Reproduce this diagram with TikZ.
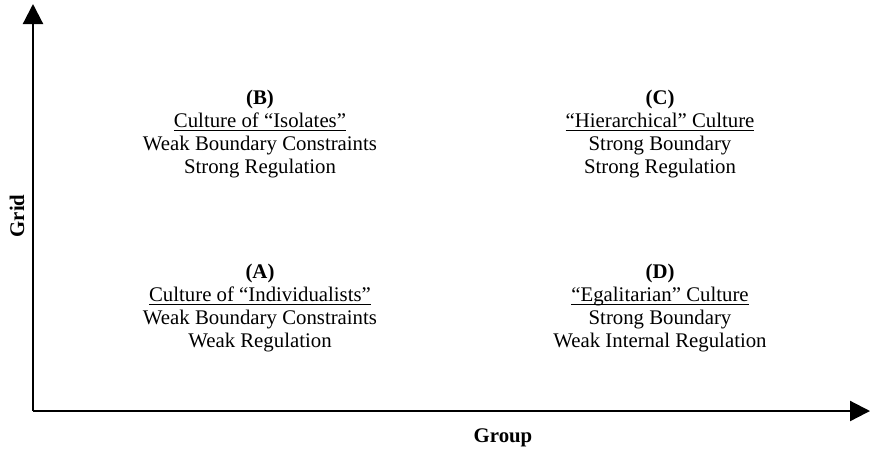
\documentclass[tikz,border=0pt]{standalone}
\usepackage{fontspec}
\setmainfont{Liberation Serif}
\usepackage{tikz}
\usetikzlibrary{arrows.meta,positioning}
\newcommand{\cultname}[1]{\smash{\underline{\smash{#1}\vphantom{a}}}}

\begin{document}
\begin{tikzpicture}[x=0.5pt,y=-0.5pt,
    quad/.style={align=center,font=\fontsize{10.4}{11.4}\selectfont},
    axislabel/.style={font=\fontsize{10.4}{11}\selectfont\bfseries},
    axis/.style={line width=1.1pt,-{Triangle[length=10pt,width=10pt]}}]
    \useasboundingbox (0,0) rectangle (870,451);
    % axes
    \coordinate (origin) at (33,411);
    \coordinate (gridtip) at (33,4);
    \coordinate (grouptip) at (870,411);
    \draw[axis] (origin) -- (gridtip);
    \draw[axis] (origin) -- (grouptip);
    \node[axislabel,rotate=90] (gridlabel) at (17,216) {Grid};
    \node[axislabel] (grouplabel) at (503,438) {Group};
    % quadrants
    \node[quad] (isolates) at (260,134) {\textbf{(B)}\\ \cultname{Culture of “Isolates”}\\ Weak Boundary Constraints\\ Strong Regulation};
    \node[quad] (hierarchical) at (660,134) {\textbf{(C)}\\ \cultname{“Hierarchical” Culture}\\ Strong Boundary\\ Strong Regulation};
    \node[quad] (individualists) at (260,308) {\textbf{(A)}\\ \cultname{Culture of “Individualists”}\\ Weak Boundary Constraints\\ Weak Regulation};
    \node[quad] (egalitarian) at (660,308) {\textbf{(D)}\\ \cultname{“Egalitarian” Culture}\\ Strong Boundary\\ Weak Internal Regulation};
\end{tikzpicture}
\end{document}
